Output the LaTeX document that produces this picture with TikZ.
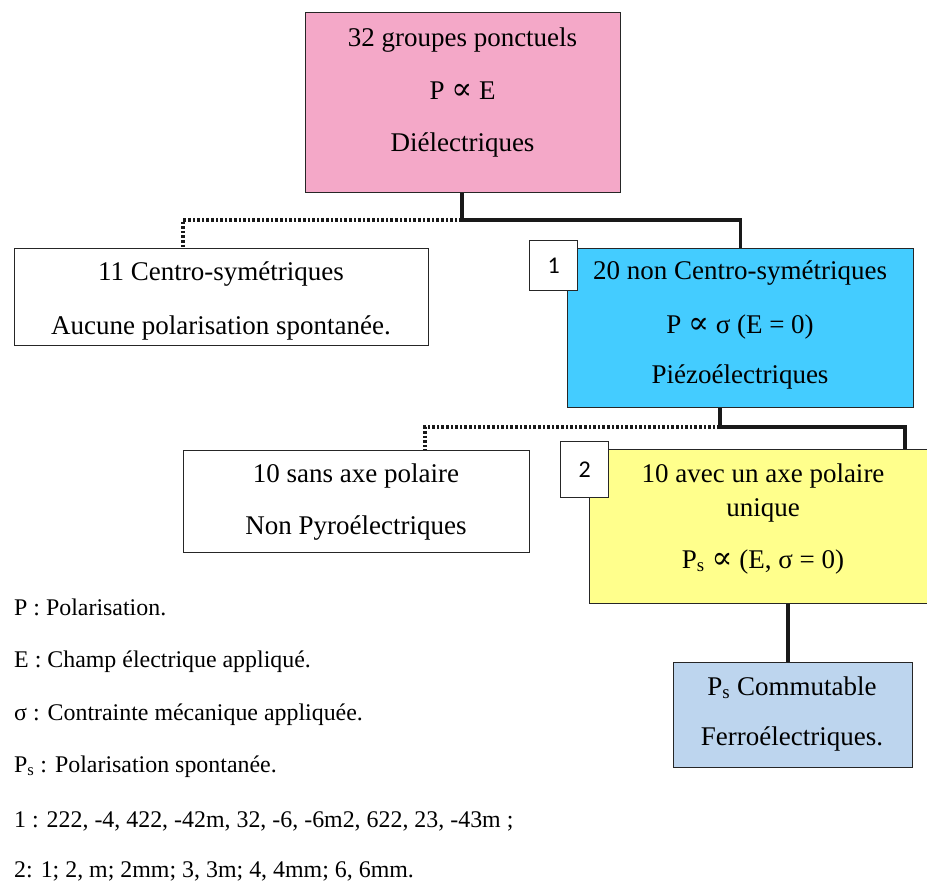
\documentclass[tikz,border=0pt]{standalone}
\usepackage{fontspec}
\setmainfont{LiberationSerif}[Extension=.ttf, UprightFont=*-Regular, BoldFont=*-Bold, ItalicFont=*-Italic]
\newfontfamily\symf{DejaVu Serif}
\newfontfamily\lblf{Carlito}
\newcommand{\prop}{{\symf\fontsize{31}{32}\selectfont\char"221D}}
\definecolor{pinkbox}{HTML}{F4A8C8}
\definecolor{bluebox}{HTML}{44CCFF}
\definecolor{yellowbox}{HTML}{FFFF8C}
\definecolor{ferrobox}{HTML}{BDD5EE}
\tikzset{
  box/.style={draw=black!85, line width=1.3pt, rectangle, inner sep=0pt, anchor=north west},
  lbl/.style={anchor=base, inner sep=0pt, font=\fontsize{27}{32}\selectfont},
  leg/.style={anchor=base west, inner sep=0pt, font=\fontsize{23.9}{28}\selectfont},
  num/.style={draw=black!85, line width=1.3pt, fill=white, rectangle, inner sep=0pt, anchor=north west, font=\lblf\fontsize{24}{28}\selectfont},
  conn/.style={line width=3.2pt, black!90},
  dconn/.style={line width=3.2pt, black!90, dash pattern=on 2.6pt off 2pt}
}
\begin{document}
\begin{tikzpicture}[x=1pt,y=-1pt]
\useasboundingbox (0,0) rectangle (927,882);
% boxes
\node[box, fill=pinkbox, minimum width=315pt, minimum height=180pt] (top) at (305,12) {};
\node[box, fill=white, minimum width=414pt, minimum height=97pt] (centro) at (14,248) {};
\node[box, fill=bluebox, minimum width=346pt, minimum height=159pt] (piezo) at (567,248) {};
\node[box, fill=white, minimum width=346pt, minimum height=102pt] (sans) at (183,450) {};
\node[box, fill=yellowbox, minimum width=338pt, minimum height=154pt] (pyro) at (589,449) {};
\node[box, fill=ferrobox, minimum width=239pt, minimum height=105pt] (ferro) at (673,662) {};
% junctions
\coordinate (j1) at (462,220);
\coordinate (d1) at (183,248);
\coordinate (j2) at (720,427);
\coordinate (s2) at (905,449);
\coordinate (d2) at (425,450);
% connectors
\draw[dconn] (j1) -| (d1);
\draw[conn] (top.south -| j1) -- (j1) -| (piezo.north);
\draw[dconn] (j2) -| (d2);
\draw[conn] (piezo.south -| j2) -- (j2) -| (s2);
\draw[conn] (pyro.south -| 788,0) -- (ferro.north -| 788,0);
% number labels
\node[num, minimum width=48pt, minimum height=50pt] (n1) at (529,240) {1};
\node[num, minimum width=48pt, minimum height=56pt] (n2) at (560,441) {2};
% texts
\node[lbl] (t1) at (462.5,47) {32 groupes ponctuels};
\node[lbl] (t2) at (462.5,100) {P \prop{} E};
\node[lbl] (t3) at (462.5,152) {Diélectriques};
\node[lbl] (c1) at (221,281) {11 Centro-symétriques};
\node[lbl] (c2) at (221,335) {Aucune polarisation spontanée.};
\node[lbl] (p1) at (740,280) {20 non Centro-symétriques};
\node[lbl] (p2) at (740,334) {P \prop{} σ (E = 0)};
\node[lbl] (p3) at (740,384) {Piézoélectriques};
\node[lbl] (s1) at (356,483) {10 sans axe polaire};
\node[lbl] (s3) at (356,535) {Non Pyroélectriques};
\node[lbl] (y1) at (763,483) {10 avec un axe polaire};
\node[lbl] (y2) at (763,517) {unique};
\node[lbl] (y3) at (763,568) {P\textsubscript{s} \prop{} (E, σ = 0)};
\node[lbl] (f1) at (792,695) {P\textsubscript{s} Commutable};
\node[lbl] (f2) at (792,745) {Ferroélectriques.};
% legend
\node[leg] (l1) at (14,615) {P : Polarisation.};
\node[leg] (l2) at (14,667) {E : Champ électrique appliqué.};
\node[leg] (l3) at (14,720) {σ : Contrainte mécanique appliquée.};
\node[leg] (l4) at (14,772) {P\textsubscript{s} : Polarisation spontanée.};
\node[leg] (l5) at (14,827) {1 : 222, -4, 422, -42m, 32, -6, -6m2, 622, 23, -43m ;};
\node[leg] (l6) at (14,877) {2: 1; 2, m; 2mm; 3, 3m; 4, 4mm; 6, 6mm.};
\end{tikzpicture}
\end{document}
